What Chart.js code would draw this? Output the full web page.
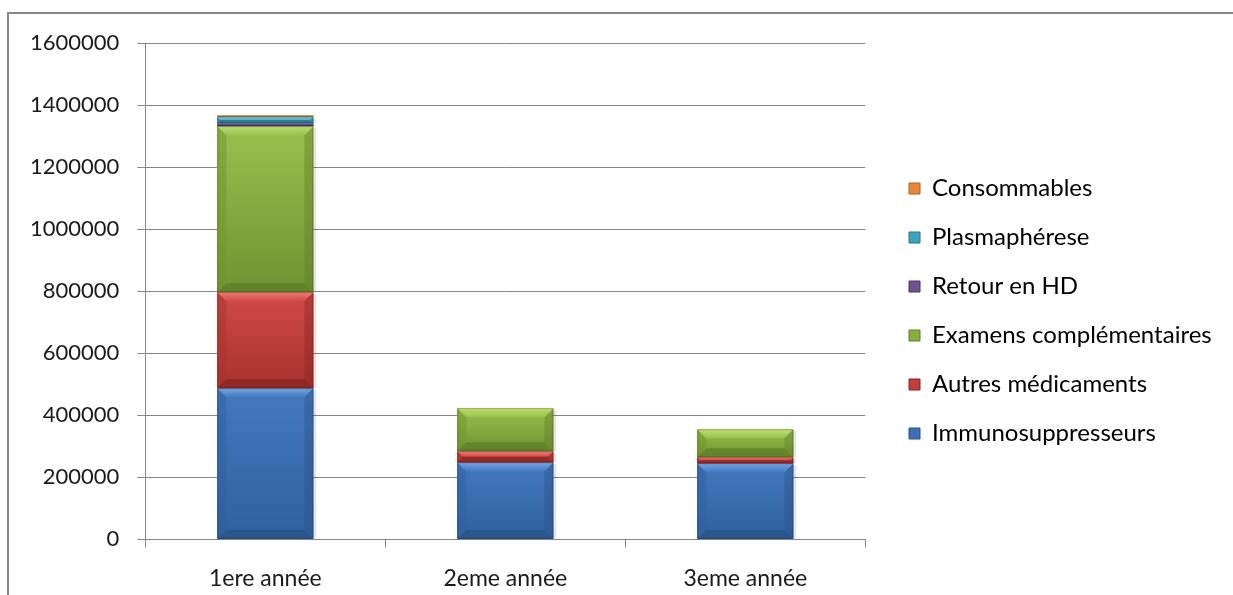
<!DOCTYPE html>
<html>
<head>
<meta charset="utf-8">
<script src="https://cdn.jsdelivr.net/npm/chart.js@4/dist/chart.umd.min.js"></script>
<style>
  html, body { margin: 0; padding: 0; background: #fff; overflow: hidden; }
  #wrap { position: relative; width: 1233px; height: 595px; }
  #frame { position: absolute; left: 7px; top: 12px; width: 1400px; height: 800px;
           border-top: 2px solid #878787; border-left: 2px solid #878787; }
  canvas { position: absolute; left: 0; top: 0; }
</style>
</head>
<body>
<div id="wrap">
  <div id="frame"></div>
  <canvas id="c" width="1233" height="595"></canvas>
</div>
<script>
const categories = ['1ere année', '2eme année', '3eme année'];
const immunosuppresseurs = [487000, 248000, 245000];
const autresMedicaments = [310000, 36000, 20000];
const examensComplementaires = [535000, 139000, 90000];
const retourEnHD = [10000, 0, 0];
const plasmapherese = [20000, 0, 0];
const consommables = [5000, 0, 0];
const yTicks = [0, 200000, 400000, 600000, 800000, 1000000, 1200000, 1400000, 1600000];

const FONT = 'Lato, "Open Sans", sans-serif';

const palette = {
  blue:   { face: '#3C6FB3', light: '#74A6E4', dark: '#2B5389', top: '#4479BF', bot: '#30609E' },
  red:    { face: '#BF3D3A', light: '#F27B77', dark: '#872523', top: '#D04B47', bot: '#A8312F' },
  green:  { face: '#88AE40', light: '#BCE070', dark: '#5E7D27', top: '#9AC04E', bot: '#6F9331' },
  purple: { face: '#6C528E', light: '#9C83C0', dark: '#4A3566', top: '#765C9A', bot: '#5C4479' },
  cyan:   { face: '#3DA2BE', light: '#7DD3EA', dark: '#25758B', top: '#49AECB', bot: '#318DA6' },
  orange: { face: '#E8863A', light: '#FFB677', dark: '#B35F1E', top: '#F09244', bot: '#D47630' }
};

const datasets = [
  { label: 'Immunosuppresseurs', data: immunosuppresseurs, pal: palette.blue },
  { label: 'Autres médicaments', data: autresMedicaments, pal: palette.red },
  { label: 'Examens complémentaires', data: examensComplementaires, pal: palette.green },
  { label: 'Retour en HD', data: retourEnHD, pal: palette.purple },
  { label: 'Plasmaphérese', data: plasmapherese, pal: palette.cyan },
  { label: 'Consommables', data: consommables, pal: palette.orange }
].map(d => ({
  label: d.label,
  data: d.data,
  pal: d.pal,
  backgroundColor: d.pal.face,
  borderColor: d.pal.dark,
  borderWidth: 0,
  categoryPercentage: 1.0,
  barPercentage: 0.4
}));

const bevelPlugin = {
  id: 'bevel',
  afterDatasetsDraw(chart) {
    const ctx = chart.ctx;
    ctx.save();
    chart.data.datasets.forEach((ds, i) => {
      const meta = chart.getDatasetMeta(i);
      meta.data.forEach(el => {
        const top = Math.min(el.y, el.base), bot = Math.max(el.y, el.base);
        if (bot - top < 0.5) return;
        const x0 = el.x - el.width / 2;
        ctx.fillStyle = 'rgba(0,0,0,0.10)';
        ctx.fillRect(x0 + el.width, top + 2, 3, bot - top - 2);
      });
    });
    chart.data.datasets.forEach((ds, i) => {
      const meta = chart.getDatasetMeta(i);
      const p = ds.pal;
      meta.data.forEach(el => {
        const top = Math.min(el.y, el.base), bot = Math.max(el.y, el.base);
        const h = bot - top;
        if (h < 0.5) return;
        const x0 = el.x - el.width / 2, x1 = el.x + el.width / 2;
        const b = Math.min(9, h / 2);
        const g = ctx.createLinearGradient(0, top, 0, bot);
        g.addColorStop(0, p.top);
        g.addColorStop(1, p.bot);
        ctx.fillStyle = g;
        ctx.fillRect(x0, top, x1 - x0, h);
        ctx.fillStyle = p.bot;
        ctx.globalAlpha = 0.5;
        ctx.beginPath();
        ctx.moveTo(x0, top); ctx.lineTo(x0 + b, top + b); ctx.lineTo(x0 + b, bot - b); ctx.lineTo(x0, bot);
        ctx.closePath(); ctx.fill();
        ctx.fillStyle = p.dark;
        ctx.globalAlpha = 0.4;
        ctx.beginPath();
        ctx.moveTo(x1, top); ctx.lineTo(x1 - b, top + b); ctx.lineTo(x1 - b, bot - b); ctx.lineTo(x1, bot);
        ctx.closePath(); ctx.fill();
        ctx.globalAlpha = 1;
        const gt = ctx.createLinearGradient(0, top, 0, top + b);
        gt.addColorStop(0, p.light);
        gt.addColorStop(1, p.top);
        ctx.fillStyle = gt;
        ctx.beginPath();
        ctx.moveTo(x0, top); ctx.lineTo(x1, top); ctx.lineTo(x1 - b, top + b); ctx.lineTo(x0 + b, top + b);
        ctx.closePath(); ctx.fill();
        ctx.fillStyle = p.dark;
        ctx.globalAlpha = 0.75;
        ctx.beginPath();
        ctx.moveTo(x0, bot); ctx.lineTo(x1, bot); ctx.lineTo(x1 - b, bot - b); ctx.lineTo(x0 + b, bot - b);
        ctx.closePath(); ctx.fill();
        ctx.globalAlpha = 1;
        ctx.strokeStyle = 'rgba(0,0,0,0.18)';
        ctx.lineWidth = 1;
        ctx.strokeRect(x0 + 0.5, top + 0.5, x1 - x0 - 1, h - 1);
      });
    });
    ctx.restore();
  }
};

const legendShift = {
  id: 'legendShift',
  afterLayout(chart) {
    const lg = chart.legend;
    if (!lg) return;
    const pad = lg.options.labels.padding;
    const dx = 909 - (lg.left + pad);
    lg.left += dx; lg.right += dx;
    const dy = -15;
    lg.top += dy; lg.bottom += dy;
  }
};

new Chart(document.getElementById('c'), {
  type: 'bar',
  data: { labels: categories, datasets: datasets },
  options: {
    responsive: false,
    animation: false,
    devicePixelRatio: 1,
    layout: { padding: { left: 12, right: 30, top: 43, bottom: -14 } },
    plugins: {
      tooltip: { enabled: false },
      legend: {
        position: 'right',
        reverse: true,
        align: 'center',
        maxWidth: 600,
        labels: {
          font: { family: FONT, size: 24 },
          color: '#1a1a1a',
          boxWidth: 11,
          boxHeight: 11,
          padding: 25,
          generateLabels(chart) {
            return chart.data.datasets.map((ds, i) => ({
              text: ds.label,
              fillStyle: ds.pal.face,
              strokeStyle: ds.pal.dark,
              lineWidth: 1,
              hidden: false,
              datasetIndex: i
            }));
          }
        }
      }
    },
    scales: {
      x: {
        stacked: true,
        grid: { display: true, drawOnChartArea: false, drawTicks: true, tickLength: 8, color: '#868686', offset: true },
        border: { display: true, color: '#868686', width: 1 },
        ticks: { font: { family: FONT, size: 23 }, color: '#1a1a1a', padding: 17 }
      },
      y: {
        stacked: true,
        min: 0,
        max: 1600000,
        afterBuildTicks(axis) { axis.ticks = yTicks.map(v => ({ value: v })); },
        grid: { color: '#868686', lineWidth: 1, drawTicks: true, tickLength: 8 },
        border: { display: true, color: '#868686', width: 1 },
        ticks: {
          font: { family: FONT, size: 22 },
          color: '#1a1a1a',
          padding: 18,
          callback: (v) => String(v)
        }
      }
    }
  },
  plugins: [bevelPlugin, legendShift]
});
</script>
</body>
</html>
